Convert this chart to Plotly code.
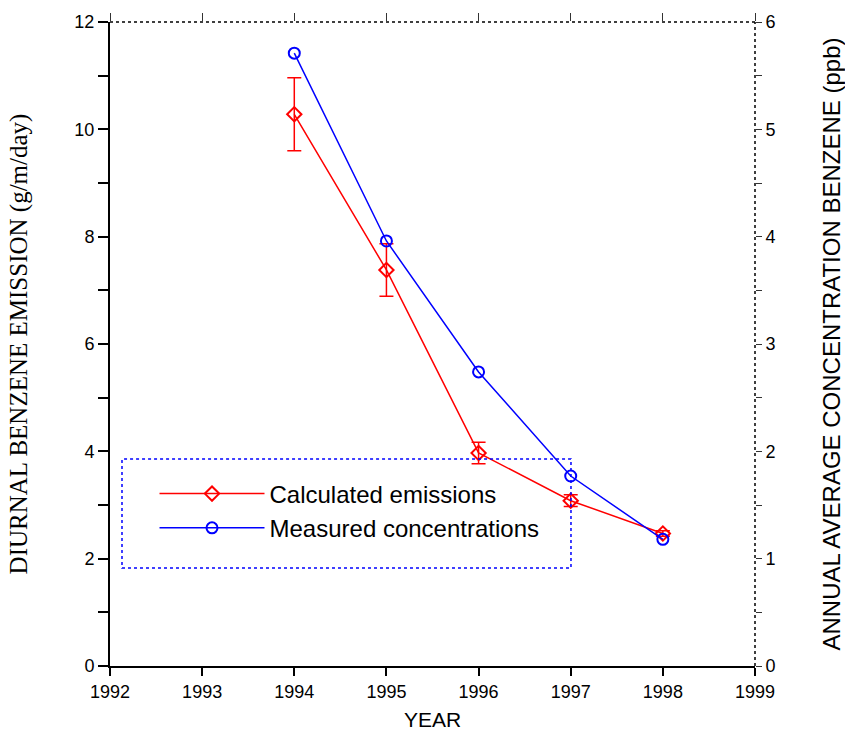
import plotly.graph_objects as go

years = [1994, 1995, 1996, 1997, 1998]
emissions = [10.28, 7.38, 3.97, 3.08, 2.47]
emission_err = [0.68, 0.49, 0.20, 0.11, 0.05]
concentration = [5.71, 3.96, 2.74, 1.77, 1.18]

x_ticks = [1992, 1993, 1994, 1995, 1996, 1997, 1998, 1999]

RED = "#ff0000"
BLUE = "#0000ff"

fig = go.Figure()

fig.add_trace(go.Scatter(
    x=years, y=emissions, name="Calculated emissions",
    mode="lines+markers",
    line=dict(color=RED, width=1.5),
    marker=dict(symbol="diamond-open", size=11, color=RED, line=dict(width=2, color=RED)),
    error_y=dict(type="data", array=emission_err, visible=True, color=RED, thickness=1.5, width=7),
    legendrank=1,
))

fig.add_trace(go.Scatter(
    x=years, y=concentration, name="Measured concentrations",
    mode="lines+markers", yaxis="y2",
    line=dict(color=BLUE, width=1.5),
    marker=dict(symbol="circle-open", size=11, color=BLUE, line=dict(width=2, color=BLUE)),
    legendrank=2,
))

# invisible trace to activate the top axis
fig.add_trace(go.Scatter(x=[1992, 1999], y=[None, None], xaxis="x2", showlegend=False, hoverinfo="skip"))

tickfont = dict(family="Liberation Sans", size=18, color="black")

fig.update_layout(
    width=845, height=733,
    margin=dict(l=110, r=90, t=22, b=67),
    paper_bgcolor="white", plot_bgcolor="white",
    showlegend=True,
    legend=dict(
        x=0.069, y=0.302, xanchor="left", yanchor="top",
        bgcolor="rgba(0,0,0,0)", borderwidth=0,
        font=dict(family="Liberation Sans", size=24, color="black"),
        itemwidth=105, tracegroupgap=2,
    ),
    xaxis=dict(
        range=[1992, 1999], tickvals=x_ticks, ticktext=[str(v) for v in x_ticks],
        ticks="outside", ticklen=8, tickwidth=1.5, tickcolor="black",
        showline=True, linewidth=2, linecolor="black",
        showgrid=False, zeroline=False, tickfont=tickfont, automargin=False,
        title=dict(text="YEAR", font=dict(family="Liberation Sans", size=21, color="black"), standoff=12),
    ),
    xaxis2=dict(
        range=[1992, 1999], overlaying="x", side="top", tickvals=x_ticks,
        showticklabels=False, ticks="outside", ticklen=8, tickwidth=1, tickcolor="#333",
        showline=False, showgrid=False, zeroline=False, automargin=False,
    ),
    yaxis=dict(
        range=[0, 12], dtick=2, tick0=0,
        ticks="outside", ticklen=10, tickwidth=1.5, tickcolor="black",
        minor=dict(dtick=1, tick0=0, ticks="outside", ticklen=10, tickwidth=1.5, tickcolor="black"),
        showline=True, linewidth=2, linecolor="black",
        showgrid=False, zeroline=False, automargin=False,
        tickfont=tickfont,
        title=dict(text="DIURNAL BENZENE EMISSION (g/m/day)",
                   font=dict(family="Liberation Serif", size=25, color="black"), standoff=40),
    ),
    yaxis2=dict(
        range=[0, 6], dtick=1, tick0=0, overlaying="y", side="right",
        ticks="outside", ticklen=6, tickwidth=1, tickcolor="#333",
        minor=dict(dtick=0.5, tick0=0, ticks="outside", ticklen=6, tickwidth=1, tickcolor="#333"),
        showline=False, showgrid=False, zeroline=False, automargin=False,
        tickfont=tickfont,
        title=dict(text="ANNUAL AVERAGE CONCENTRATION BENZENE (ppb)",
                   font=dict(family="Liberation Sans", size=24, color="black"), standoff=48),
    ),
    shapes=[
        dict(type="line", xref="paper", yref="paper", x0=0, x1=1, y0=1, y1=1,
             line=dict(color="black", width=1.5, dash="dot")),
        dict(type="line", xref="paper", yref="paper", x0=1, x1=1, y0=0, y1=1,
             line=dict(color="black", width=1.5, dash="dot")),
        dict(type="rect", xref="paper", yref="paper", x0=0.0186, x1=0.7147, y0=0.152, y1=0.3214,
             line=dict(color=BLUE, width=1.5, dash="dot"), fillcolor="rgba(0,0,0,0)"),
    ],
)

fig.write_html("out.html", config={"displayModeBar": False},
               post_script="document.body.style.margin='0';document.body.style.overflow='hidden';")
